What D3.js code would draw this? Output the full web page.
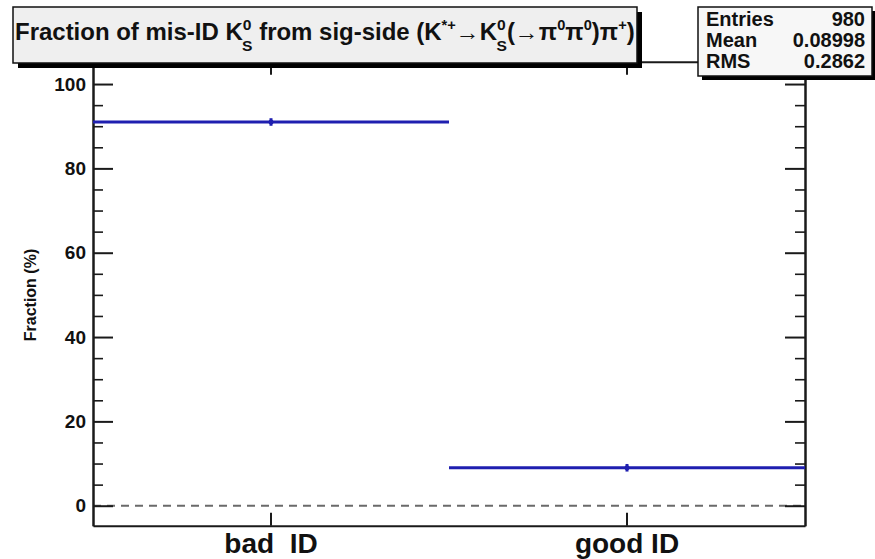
<!DOCTYPE html>
<html>
<head>
<meta charset="utf-8">
<script src="https://cdn.jsdelivr.net/npm/d3@7"></script>
<style>
	body { margin: 0; background: #fff; }
	svg text { font-family: "Liberation Sans", Arial, Helvetica, sans-serif; font-weight: bold; }
</style>
</head>
<body>
<div id="chart-area"></div>
<script>
// Histogram bins and values (percent)
let categories = ["bad  ID", "good ID"];
let fractions = [91.0, 9.0];
let errors = [0.9, 0.9];

// Axis ticks
let majorTicks = [0, 20, 40, 60, 80, 100];
let minorTicks = d3.range(0, 101, 5).filter(d => d % 20 !== 0);

// Stats box
let statLabels = ["Entries", "Mean", "RMS"];
let statValues = ["980", "0.08998", "0.2862"];

// Title pieces: [text, kind]  kind: n = normal, sup, supsub (stacked 0 over S)
let titleParts = [
	["Fraction of mis-ID K", "n"], ["0|S", "supsub"], [" from sig-side (K", "n"], ["*+", "sup"],
	["\u2192K", "n"], ["0|S", "supsub"], ["(\u2192\u03c0", "n"], ["0", "sup"], ["\u03c0", "n"],
	["0", "sup"], [")\u03c0", "n"], ["+", "sup"], [")", "n"]
];

let W = 875, H = 559;
let frame = {left: 93, right: 805, top: 61.7, bottom: 525.7};

let svg = d3.select("#chart-area")
	.append("svg")
	.attr("width", W)
	.attr("height", H);

// Scales
let x = d3.scaleBand()
	.domain(categories)
	.range([frame.left, frame.right])
	.paddingInner(0)
	.paddingOuter(0);
let y = d3.scaleLinear()
	.domain([-4.74, 105.3])
	.range([frame.bottom, frame.top]);

// Dashed zero line
svg.append("line")
	.attr("x1", frame.left)
	.attr("x2", frame.right)
	.attr("y1", y(0))
	.attr("y2", y(0))
	.attr("stroke", "#6a6a6a")
	.attr("stroke-width", 2)
	.attr("stroke-dasharray", "8,6");

// Axes
function styleAxis(g, width) {
	g.select(".domain").attr("stroke", "#1a1a1a").attr("stroke-width", 2);
	g.selectAll(".tick line").attr("stroke", "#1a1a1a").attr("stroke-width", width);
}

// left: major with labels, minor without
let leftMajor = svg.append("g")
	.attr("transform", "translate(" + frame.left + ",0)")
	.call(d3.axisLeft(y).tickValues(majorTicks).tickSize(-20).tickSizeOuter(0).tickPadding(7));
leftMajor.selectAll("text").attr("font-size", 19).attr("fill", "#111");
styleAxis(leftMajor, 2);
let leftMinor = svg.append("g")
	.attr("transform", "translate(" + frame.left + ",0)")
	.call(d3.axisLeft(y).tickValues(minorTicks).tickSize(-10).tickSizeOuter(0).tickFormat(""));
styleAxis(leftMinor, 1.6);

// right
let rightMajor = svg.append("g")
	.attr("transform", "translate(" + frame.right + ",0)")
	.call(d3.axisRight(y).tickValues(majorTicks).tickSize(-20).tickSizeOuter(0).tickFormat(""));
styleAxis(rightMajor, 2);
let rightMinor = svg.append("g")
	.attr("transform", "translate(" + frame.right + ",0)")
	.call(d3.axisRight(y).tickValues(minorTicks).tickSize(-10).tickSizeOuter(0).tickFormat(""));
styleAxis(rightMinor, 1.6);

// bottom and top
let bottomAxis = svg.append("g")
	.attr("transform", "translate(0," + frame.bottom + ")")
	.call(d3.axisBottom(x).tickSize(-13).tickSizeOuter(0).tickPadding(7));
bottomAxis.selectAll("text")
	.attr("font-size", 28)
	.attr("fill", "#111")
	.style("white-space", "pre");
styleAxis(bottomAxis, 2);
let topAxis = svg.append("g")
	.attr("transform", "translate(0," + frame.top + ")")
	.call(d3.axisTop(x).tickSize(-13).tickSizeOuter(0).tickFormat(""));
styleAxis(topAxis, 2);

// Y axis title
svg.append("text")
	.attr("transform", "translate(36,295) rotate(-90)")
	.attr("text-anchor", "middle")
	.attr("font-size", 16)
	.attr("fill", "#111")
	.text("Fraction (%)");

// Histogram: horizontal bin lines, error bars and markers
let hist = categories.map((c, i) => ({cat: c, v: fractions[i], e: errors[i]}));
let blue = "#1f1fb0";

svg.selectAll(".bin")
	.data(hist)
	.enter()
	.append("line")
	.attr("class", "bin")
	.attr("x1", d => x(d.cat))
	.attr("x2", d => x(d.cat) + x.bandwidth())
	.attr("y1", d => y(d.v))
	.attr("y2", d => y(d.v))
	.attr("stroke", blue)
	.attr("stroke-width", 3);

svg.selectAll(".err")
	.data(hist)
	.enter()
	.append("line")
	.attr("class", "err")
	.attr("x1", d => x(d.cat) + x.bandwidth() / 2)
	.attr("x2", d => x(d.cat) + x.bandwidth() / 2)
	.attr("y1", d => y(d.v - d.e))
	.attr("y2", d => y(d.v + d.e))
	.attr("stroke", blue)
	.attr("stroke-width", 3);

svg.selectAll(".dot")
	.data(hist)
	.enter()
	.append("circle")
	.attr("class", "dot")
	.attr("cx", d => x(d.cat) + x.bandwidth() / 2)
	.attr("cy", d => y(d.v))
	.attr("r", 2.5)
	.attr("fill", blue);

// Title box with shadow
let tb = {x: 13, y: 7, w: 624, h: 56};
svg.append("rect")
	.attr("x", tb.x + 5).attr("y", tb.y + 5)
	.attr("width", tb.w).attr("height", tb.h)
	.attr("fill", "#000");
svg.append("rect")
	.attr("x", tb.x).attr("y", tb.y)
	.attr("width", tb.w).attr("height", tb.h)
	.attr("fill", "#efefef")
	.attr("stroke", "#111")
	.attr("stroke-width", 1.5);

let titleG = svg.append("g");
let title = titleG.append("text")
	.attr("x", 0)
	.attr("y", 40)
	.attr("font-size", 23)
	.attr("fill", "#111");

// pending shift back to the baseline, applied to the next normal piece
let back = 0;
titleParts.forEach(p => {
	let txt = p[0], kind = p[1];
	if (kind === "n") {
		title.append("tspan").attr("dy", back).text(txt);
		back = 0;
	} else if (kind === "sup") {
		title.append("tspan").attr("font-size", 14).attr("dy", -10).text(txt);
		back = 10;
	} else {
		let parts = txt.split("|");
		title.append("tspan").attr("font-size", 15).attr("dy", -10).text(parts[0]);
		title.append("tspan").attr("font-size", 15).attr("dx", -9).attr("dy", 21).text(parts[1]);
		back = -11;
	}
});

// fit title across the box
let bb = title.node().getBBox();
let k = (tb.w - 4) / bb.width;
titleG.attr("transform", "translate(" + (tb.x + 2 - bb.x * k) + ",0) scale(" + k + ",1)");

// Stats box with shadow
let sb = {x: 698, y: 7, w: 174, h: 69};
svg.append("rect")
	.attr("x", sb.x + 4).attr("y", sb.y + 4)
	.attr("width", sb.w).attr("height", sb.h)
	.attr("fill", "#000");
svg.append("rect")
	.attr("x", sb.x).attr("y", sb.y)
	.attr("width", sb.w).attr("height", sb.h)
	.attr("fill", "#f7f7f7")
	.attr("stroke", "#111")
	.attr("stroke-width", 1.5);

statLabels.forEach((lab, i) => {
	let yy = 26 + i * 21;
	svg.append("text")
		.attr("x", 706)
		.attr("y", yy)
		.attr("font-size", 20)
		.attr("fill", "#111")
		.text(lab);
	svg.append("text")
		.attr("x", 865)
		.attr("y", yy)
		.attr("text-anchor", "end")
		.attr("font-size", 20)
		.attr("fill", "#111")
		.text(statValues[i]);
});
</script>
</body>
</html>
